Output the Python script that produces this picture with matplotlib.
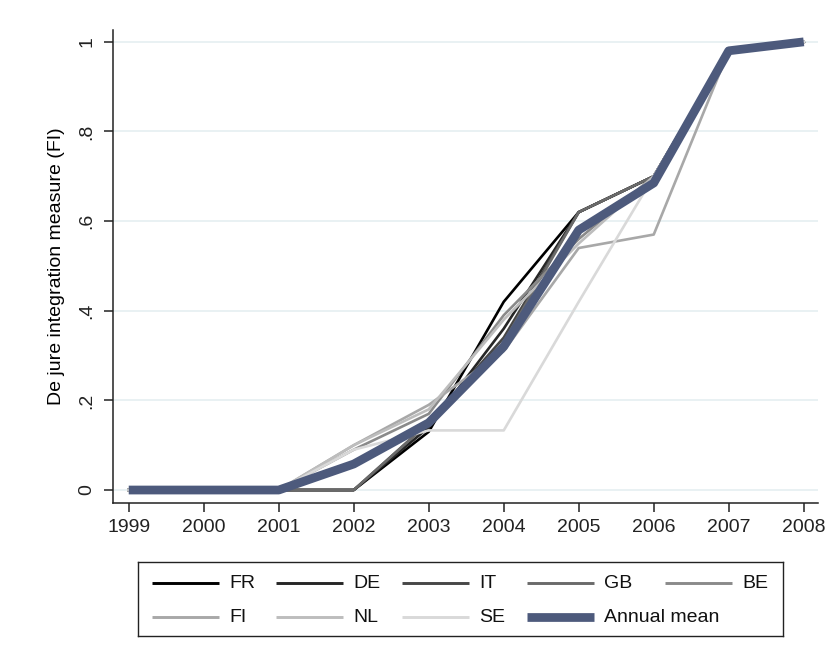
import numpy as np
import matplotlib.pyplot as plt

plt.rcParams['font.family'] = ['Liberation Sans', 'DejaVu Sans']

# --- data ---
years = [1999, 2000, 2001, 2002, 2003, 2004, 2005, 2006, 2007, 2008]

fr = [0, 0, 0, 0.00, 0.13, 0.42, 0.62, 0.70, 0.98, 1.0]
de = [0, 0, 0, 0.00, 0.14, 0.36, 0.62, 0.70, 0.98, 1.0]
it = [0, 0, 0, 0.00, 0.15, 0.34, 0.62, 0.70, 0.98, 1.0]
gb = [0, 0, 0, 0.00, 0.15, 0.33, 0.62, 0.70, 0.98, 1.0]
be = [0, 0, 0, 0.09, 0.17, 0.39, 0.56, 0.70, 0.98, 1.0]
fi = [0, 0, 0, 0.10, 0.19, 0.31, 0.54, 0.57, 0.98, 1.0]
nl = [0, 0, 0, 0.10, 0.18, 0.38, 0.55, 0.70, 0.98, 1.0]
se = [0, 0, 0, 0.09, 0.133, 0.133, 0.42, 0.70, 0.98, 1.0]
annual_mean = [0, 0, 0, 0.058, 0.15, 0.32, 0.58, 0.685, 0.98, 1.0]

countries = ['FR', 'DE', 'IT', 'GB', 'BE', 'FI', 'NL', 'SE']
series = [fr, de, it, gb, be, fi, nl, se]
greys = ['#000000', '#262626', '#474747', '#6a6a6a', '#8a8a8a',
         '#a8a8a8', '#bdbdbd', '#d9d9d9']

yticks = [0, 0.2, 0.4, 0.6, 0.8, 1.0]
ytick_labels = ['0', '.2', '.4', '.6', '.8', '1']

fig = plt.figure(figsize=(8.29, 6.63), dpi=100)
ax = fig.add_axes([0.1363, 0.2413, 0.8504, 0.7137])

entries = []
for vals, name, col in zip(series, countries, greys):
    ax.plot(years, vals, color=col, lw=1.9)
    entries.append((name, col, 2.1))
ax.plot(years, annual_mean, color='#4d5a7c', lw=6.3, solid_capstyle='butt')
entries.append(('Annual mean', '#4d5a7c', 6.3))

ax.set_xlim(1998.79, 2008.19)
ax.set_ylim(-0.0290, 1.0268)
ax.set_xticks(years)
ax.set_yticks(yticks)
ax.set_yticklabels(ytick_labels, rotation=90, va='center')
ax.tick_params(labelsize=14, length=6.5, width=1.1, colors='#222222')
ax.tick_params(axis='x', pad=5)
ax.tick_params(axis='y', pad=6)
ax.grid(axis='y', color='#e3edf0', lw=1.1)
ax.set_axisbelow(True)
for s in ['top', 'right']:
    ax.spines[s].set_visible(False)
for s in ['left', 'bottom']:
    ax.spines[s].set_linewidth(1.1)
    ax.spines[s].set_color('#222222')
ax.set_ylabel('De jure integration measure (FI)', fontsize=14, labelpad=10)

# legend box in Stata style: 5 evenly spaced columns, 2 rows
lx0, ly0, lw_px, lh_px = 138, 562, 645, 74
lax = fig.add_axes([lx0 / 829, 1 - (ly0 + lh_px) / 663, lw_px / 829, lh_px / 663])
lax.set_xlim(0, lw_px)
lax.set_ylim(lh_px, 0)
lax.set_xticks([])
lax.set_yticks([])
for s in lax.spines.values():
    s.set_color('#222222')
    s.set_linewidth(1.0)
col_x = [14, 138, 264, 389, 527]
row_y = [21, 55]
for k, (name, col, lw) in enumerate(entries):
    r, c = divmod(k, 5)
    x0, y0 = col_x[c], row_y[r]
    lax.plot([x0, x0 + 67], [y0, y0], color=col, lw=lw, solid_capstyle='butt')
    lax.text(x0 + 77, y0, name, fontsize=14, va='center', ha='left',
             color='#111111')

fig.savefig('out.png', dpi=100)
